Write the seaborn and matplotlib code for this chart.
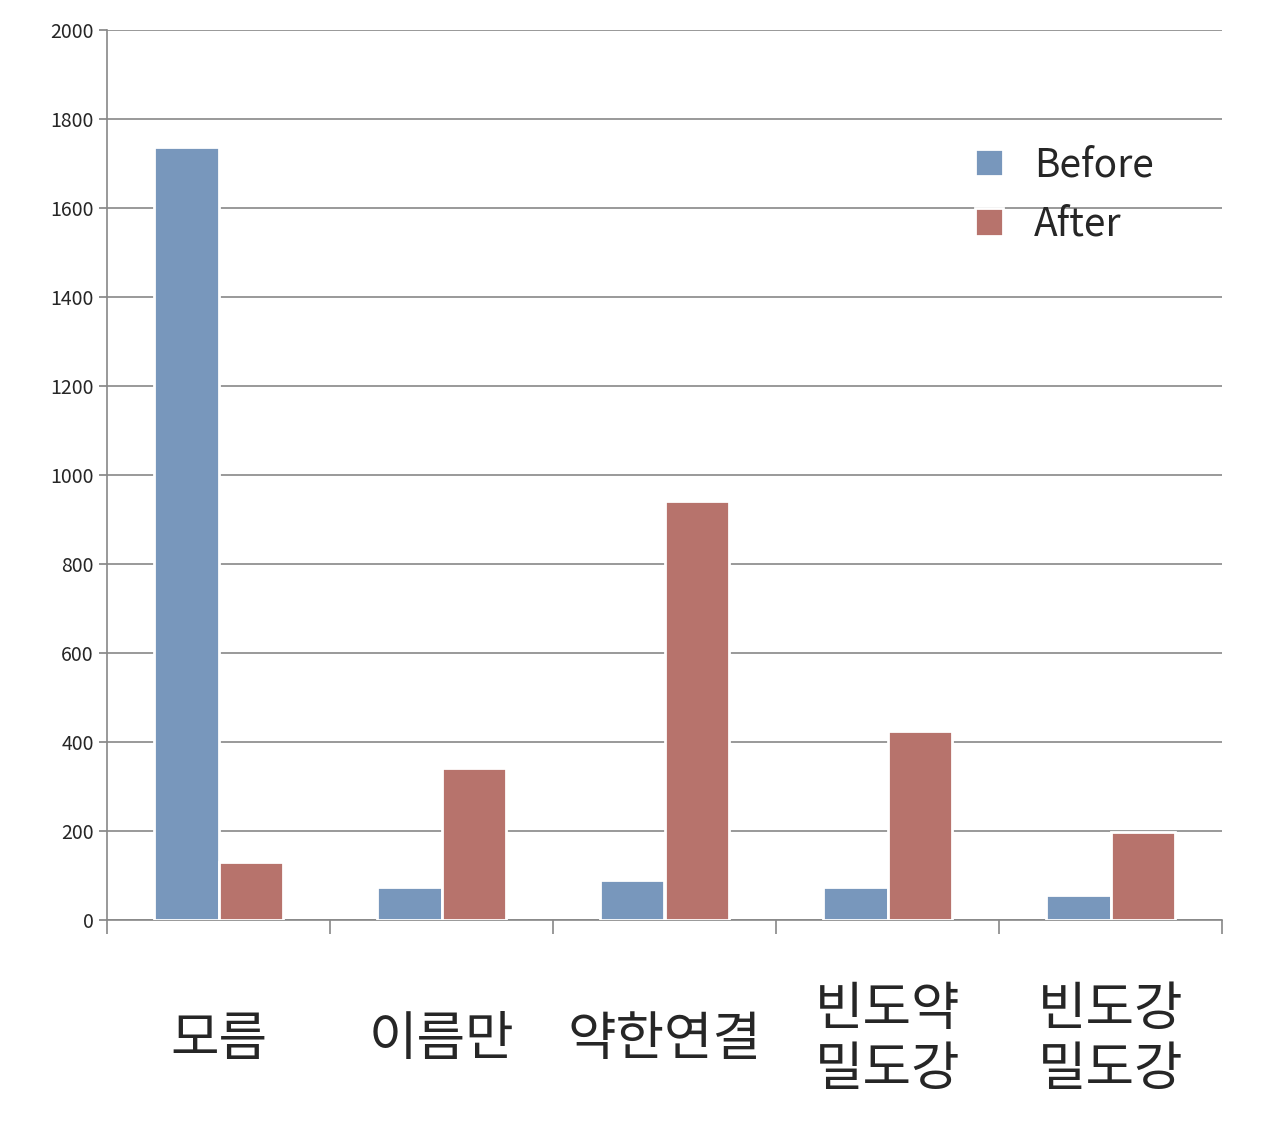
import matplotlib
matplotlib.use("Agg")
import matplotlib.pyplot as plt
import seaborn as sns
import pandas as pd
import numpy as np

categories = ["모름", "이름만", "약한연결", "빈도약\n밀도강", "빈도강\n밀도강"]
before = [1737, 74, 90, 74, 56]
after = [130, 342, 942, 425, 198]

df = pd.DataFrame({
    "cat": categories * 2,
    "val": before + after,
    "series": ["Before"] * 5 + ["After"] * 5,
})

sns.set_theme(style="white")
plt.rcParams['font.family'] = ['Noto Sans CJK KR', 'DejaVu Sans']

fig = plt.figure(figsize=(12.8, 11.46), dpi=100)
ax = fig.add_axes([107/1280, 1 - 920/1146, (1222-107)/1280, (920-30)/1146])
sns.barplot(data=df, x="cat", y="val", hue="series", order=categories,
            palette={"Before": "#6C96C8", "After": "#C4695F"}, width=0.58,
            edgecolor="white", linewidth=2, ax=ax, zorder=3)
ax.set_ylim(0, 2000)
ax.set_xlim(-0.5, 4.5)
ax.set_yticks(np.arange(0, 2001, 200))
ax.yaxis.grid(True, color="#888888", linewidth=1.2, zorder=0)
ax.set_axisbelow(True)
ax.set_xlabel("")
ax.set_ylabel("")
for s in ["top", "right"]:
    ax.spines[s].set_visible(False)
for s in ["left", "bottom"]:
    ax.spines[s].set_color("#888888")
    ax.spines[s].set_linewidth(1.2)
ax.tick_params(axis="y", labelsize=14, left=True, length=6, color="#888888")
ax.set_xticks(np.arange(-0.5, 4.6, 1), minor=True)
ax.tick_params(axis="x", which="minor", bottom=True, length=10, color="#888888", width=1.2)
ax.tick_params(axis="x", which="major", bottom=False, labelsize=38, pad=80)
for t in ax.get_xticklabels():
    t.set_va("center")
    t.set_linespacing(1.1)
ax.legend(loc="upper right", bbox_to_anchor=(0.97, 0.91), frameon=False,
          fontsize=28, handlelength=0.7, handleheight=0.7, labelspacing=0.5)
fig.savefig("out.png", dpi=100)
